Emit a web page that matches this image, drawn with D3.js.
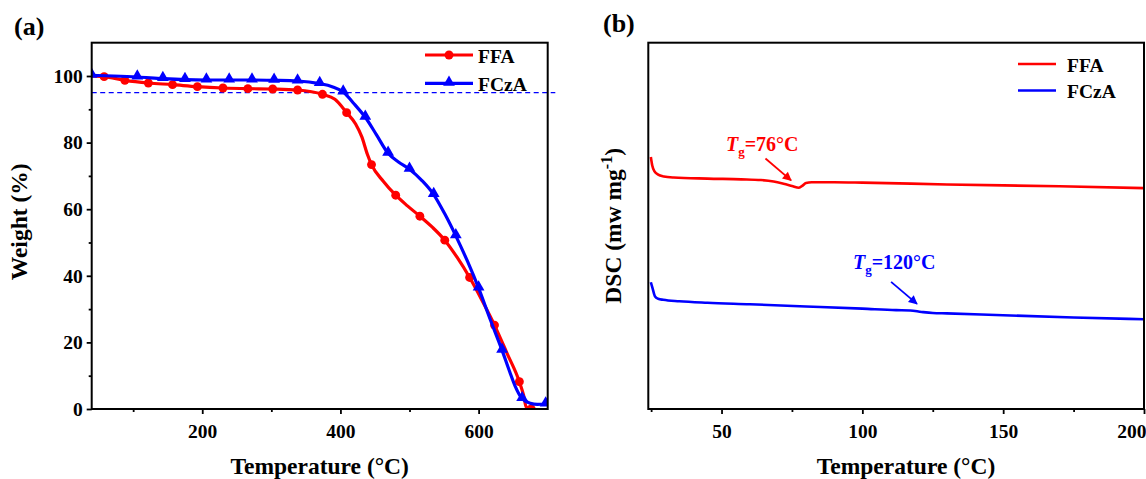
<!DOCTYPE html>
<html><head><meta charset="utf-8">
<script src="https://cdn.jsdelivr.net/npm/d3@7"></script>
<style>
body{margin:0;background:#fff;}
svg{display:block;font-family:"Liberation Serif","Times New Roman",serif;font-weight:bold;}
</style></head><body>
<svg id="chart" width="1146" height="479"></svg>
<script>
// ---------- DATA ----------
const seriesNames = ["FFA", "FCzA"];
const seriesColors = ["#ff0000", "#0000ff"];

// (a) TGA curves: temperature (°C) and weight (%)
const ffaTemp   = [40, 58, 88, 122, 157, 193, 230, 266, 302, 338, 374, 392, 409, 422, 431, 439, 445, 462, 480, 497, 515, 533, 551, 569, 587, 605, 623, 641, 659, 665, 669, 676, 682];
const ffaWeight = [100, 99.8, 98.7, 97.9, 97.4, 96.8, 96.4, 96.2, 96.1, 95.8, 94.5, 93.0, 89.0, 85.6, 81.7, 76.5, 73.4, 68.4, 64.2, 61.0, 57.9, 54.6, 50.7, 45.5, 39.5, 32.6, 25.2, 16.8, 8.2, 4.2, 0.6, 0, 0];
const ffaMarkerTemp = [58, 88, 122, 157, 193, 230, 266, 302, 338, 374, 409, 445, 480, 515, 551, 587, 623, 659, 676];

const fczaTemp   = [40, 72, 106, 143, 175, 206, 239, 272, 304, 338, 370, 388, 404, 420, 436, 452, 469, 484, 500, 518, 535, 551, 567, 584, 600, 617, 634, 645, 653, 663, 675, 685, 697, 700];
const fczaWeight = [100.2, 100.0, 99.7, 99.2, 98.9, 98.8, 98.8, 98.8, 98.7, 98.5, 97.7, 96.8, 95.2, 91.6, 87.6, 82.4, 76.8, 74.2, 72.0, 68.6, 64.4, 58.6, 52.0, 44.3, 36.3, 26.8, 17.6, 11.2, 6.8, 3.1, 1.7, 1.4, 1.5, 1.6];
const fczaMarkerTemp = [40, 106, 143, 175, 206, 239, 272, 304, 338, 370, 404, 436, 469, 500, 535, 567, 600, 634, 663, 697];

const tgaXTicks = [200, 400, 600];
const tgaXMinor = [100, 300, 500];
const tgaYTicks = [0, 20, 40, 60, 80, 100];
const tgaYMinor = [10, 30, 50, 70, 90];
const t5Weight = 95;

// (b) DSC curves: temperature (°C) and heat flow (arbitrary units)
const dscFfaTemp   = [24.9, 25.4, 26.2, 27.5, 29.5, 33, 45, 57, 64, 68.5, 72, 75, 77.5, 78.8, 80, 82, 90, 100, 130, 170, 200];
const dscFfaSignal = [68.8, 66.5, 64.9, 64.0, 63.5, 63.2, 62.9, 62.7, 62.5, 62.1, 61.5, 60.9, 60.4, 61.0, 61.7, 61.9, 61.9, 61.8, 61.3, 60.8, 60.3];
const dscFczaTemp   = [24.9, 25.5, 26.4, 27.5, 29.3, 35, 45, 60, 80, 100, 112, 117, 121, 125, 130, 150, 175, 200];
const dscFczaSignal = [34.6, 33.0, 30.7, 30.1, 29.8, 29.4, 29.0, 28.6, 28.0, 27.4, 27.0, 26.9, 26.5, 26.2, 26.1, 25.6, 25.0, 24.5];
const dscXTicks = [50, 100, 150, 200];
const dscXMinor = [25, 75, 125, 175];
const tgValues = [76, 120];
// arrows: [startTemp, startSignal, endTemp, endSignal]
const tgArrows = [[65.6, 68.4, 74.7, 62.4], [110.2, 34.7, 119.4, 28.7]];

// ---------- LAYOUT ----------
const svg = d3.select("#chart");
const A = {l: 91.7, r: 547.7, t: 42.7, b: 409};
const B = {l: 648.3, r: 1144, t: 42.7, b: 409};

const xA = d3.scaleLinear().domain([40, 700]).range([A.l, A.r]);
const yA = d3.scaleLinear().domain([0, 110]).range([A.b, A.t]);
const xB = d3.scaleLinear().domain([24, 200]).range([B.l, B.r]);
const yB = d3.scaleLinear().domain([0, 100]).range([B.b, B.t]);

const defs = svg.append("defs");
defs.append("clipPath").attr("id", "clipA").append("rect")
  .attr("x", A.l).attr("y", A.t).attr("width", A.r - A.l).attr("height", A.b - A.t);
defs.append("clipPath").attr("id", "clipB").append("rect")
  .attr("x", B.l).attr("y", B.t).attr("width", B.r - B.l).attr("height", B.b - B.t);
["red", "blue"].forEach((n, i) => {
  defs.append("marker").attr("id", "arrow-" + n)
    .attr("viewBox", "0 0 10 10").attr("refX", 9).attr("refY", 5)
    .attr("markerWidth", 10).attr("markerHeight", 9).attr("markerUnits", "userSpaceOnUse")
    .attr("orient", "auto")
    .append("path").attr("d", "M0,0 L10,5 L0,10 Z").attr("fill", seriesColors[i]);
});

function styleAxis(g, fs) {
  g.select(".domain").remove();
  g.selectAll("line").attr("stroke", "#000").attr("stroke-width", 1.8);
  g.selectAll("text").attr("font-size", fs).attr("font-weight", "bold")
    .attr("font-family", "'Liberation Serif','Times New Roman',serif").attr("fill", "#000");
}

// ---------- PANEL (a) ----------
const gA = svg.append("g");
gA.append("g").attr("transform", `translate(0,${A.b})`)
  .call(d3.axisBottom(xA).tickValues(tgaXTicks).tickSize(5).tickPadding(10).tickFormat(d3.format("d")))
  .call(g => styleAxis(g, 19.5));
gA.append("g").attr("transform", `translate(0,${A.b})`)
  .call(d3.axisBottom(xA).tickValues(tgaXMinor).tickSize(3).tickFormat(""))
  .call(g => styleAxis(g, 19.5));
gA.append("g").attr("transform", `translate(${A.l},0)`)
  .call(d3.axisLeft(yA).tickValues(tgaYTicks).tickSize(5).tickPadding(4).tickFormat(d3.format("d")))
  .call(g => styleAxis(g, 19.5));
gA.append("g").attr("transform", `translate(${A.l},0)`)
  .call(d3.axisLeft(yA).tickValues(tgaYMinor).tickSize(3).tickFormat(""))
  .call(g => styleAxis(g, 19.5));

// 5% weight loss dashed line
gA.append("line")
  .attr("x1", xA(40)).attr("x2", xA(711)).attr("y1", yA(t5Weight)).attr("y2", yA(t5Weight))
  .attr("stroke", "#0000ff").attr("stroke-width", 1.2).attr("stroke-dasharray", "5,3.5");

const lineA = d3.line().x(d => xA(d[0])).y(d => yA(d[1])).curve(d3.curveMonotoneX);
const tga = [
  {temp: ffaTemp, w: ffaWeight, marks: ffaMarkerTemp, shape: "circle"},
  {temp: fczaTemp, w: fczaWeight, marks: fczaMarkerTemp, shape: "triangle"}
];
const plotA = gA.append("g").attr("clip-path", "url(#clipA)");
tga.forEach((s, i) => {
  const pts = s.temp.map((t, k) => [t, s.w[k]]);
  plotA.append("path").datum(pts).attr("d", lineA)
    .attr("fill", "none").attr("stroke", seriesColors[i]).attr("stroke-width", 3.2)
    .attr("stroke-linejoin", "round");
  const mk = s.marks.map(t => [t, s.w[s.temp.indexOf(t)]]);
  const sym = d3.symbol().type(s.shape === "circle" ? d3.symbolCircle : d3.symbolTriangle)
    .size(s.shape === "circle" ? 62 : 60);
  plotA.selectAll(null).data(mk).enter().append("path")
    .attr("d", sym)
    .attr("transform", d => `translate(${xA(d[0])},${yA(d[1]) + (s.shape === "circle" ? 0 : -1)})`)
    .attr("fill", seriesColors[i]);
});
gA.append("rect").attr("x", A.l).attr("y", A.t).attr("width", A.r - A.l).attr("height", A.b - A.t)
  .attr("fill", "none").attr("stroke", "#000").attr("stroke-width", 2);

// legend (a)
seriesNames.forEach((n, i) => {
  const ly = 55 + i * 28.3;
  gA.append("line").attr("x1", 425).attr("x2", 473).attr("y1", ly).attr("y2", ly)
    .attr("stroke", seriesColors[i]).attr("stroke-width", 3.2);
  const sym = d3.symbol().type(i === 0 ? d3.symbolCircle : d3.symbolTriangle).size(i === 0 ? 62 : 60);
  gA.append("path").attr("d", sym).attr("transform", `translate(449,${ly - (i ? 1 : 0)})`).attr("fill", seriesColors[i]);
  gA.append("text").attr("x", 478).attr("y", ly + 8).attr("font-size", 19.5).text(n);
});

// titles (a)
gA.append("text").attr("x", (A.l + A.r) / 2).attr("y", 474).attr("text-anchor", "middle")
  .attr("font-size", 23.5).text("Temperature (°C)");
gA.append("text").attr("transform", `translate(27,${(A.t + A.b) / 2 - 4}) rotate(-90)`).attr("text-anchor", "middle")
  .attr("font-size", 23.5).text("Weight (%)");
gA.append("text").attr("x", 14).attr("y", 35).attr("font-size", 26).text("(a)");

// ---------- PANEL (b) ----------
const gB = svg.append("g");
gB.append("g").attr("transform", `translate(0,${B.b})`)
  .call(d3.axisBottom(xB).tickValues(dscXTicks).tickSize(5).tickPadding(10).tickFormat(d3.format("d")))
  .call(g => styleAxis(g, 19.5))
  .call(g => g.selectAll(".tick text").filter(d => d === 200).attr("text-anchor", "end").attr("dx", 2));
gB.append("g").attr("transform", `translate(0,${B.b})`)
  .call(d3.axisBottom(xB).tickValues(dscXMinor).tickSize(3).tickFormat(""))
  .call(g => styleAxis(g, 19.5));

const lineB = d3.line().x(d => xB(d[0])).y(d => yB(d[1])).curve(d3.curveMonotoneX);
const dsc = [[dscFfaTemp, dscFfaSignal], [dscFczaTemp, dscFczaSignal]];
const plotB = gB.append("g").attr("clip-path", "url(#clipB)");
dsc.forEach((s, i) => {
  plotB.append("path").datum(s[0].map((t, k) => [t, s[1][k]])).attr("d", lineB)
    .attr("fill", "none").attr("stroke", seriesColors[i]).attr("stroke-width", 2.6)
    .attr("stroke-linejoin", "round");
});
gB.append("rect").attr("x", B.l).attr("y", B.t).attr("width", B.r - B.l).attr("height", B.b - B.t)
  .attr("fill", "none").attr("stroke", "#000").attr("stroke-width", 2);

// annotations
const tgTextPos = [[726, 151], [853, 269]];
tgValues.forEach((v, i) => {
  const a = tgArrows[i];
  gB.append("line").attr("x1", xB(a[0])).attr("y1", yB(a[1])).attr("x2", xB(a[2])).attr("y2", yB(a[3]))
    .attr("stroke", seriesColors[i]).attr("stroke-width", 1.8)
    .attr("marker-end", `url(#arrow-${i ? "blue" : "red"})`);
  const t = gB.append("text").attr("x", tgTextPos[i][0]).attr("y", tgTextPos[i][1])
    .attr("font-size", 20).attr("fill", seriesColors[i]);
  t.append("tspan").attr("font-style", "italic").text("T");
  t.append("tspan").attr("font-size", 13).attr("dy", 5).text("g");
  t.append("tspan").attr("dy", -5).text("=" + v + "°C");
});

// legend (b)
seriesNames.forEach((n, i) => {
  const ly = 64 + i * 26.5;
  gB.append("line").attr("x1", 1018).attr("x2", 1056).attr("y1", ly).attr("y2", ly)
    .attr("stroke", seriesColors[i]).attr("stroke-width", 2.6);
  gB.append("text").attr("x", 1067).attr("y", ly + 7.5).attr("font-size", 19.5).text(n);
});

// titles (b)
gB.append("text").attr("x", 906).attr("y", 474).attr("text-anchor", "middle")
  .attr("font-size", 23.5).text("Temperature (°C)");
const yt = gB.append("text").attr("transform", `translate(621,${(B.t + B.b) / 2}) rotate(-90)`)
  .attr("text-anchor", "middle").attr("font-size", 23.5);
yt.append("tspan").text("DSC (mw mg");
yt.append("tspan").attr("font-size", 16).attr("dy", -9).text("-1");
yt.append("tspan").attr("dy", 9).text(")");
gB.append("text").attr("x", 603).attr("y", 32).attr("font-size", 26).text("(b)");
</script>
</body></html>
